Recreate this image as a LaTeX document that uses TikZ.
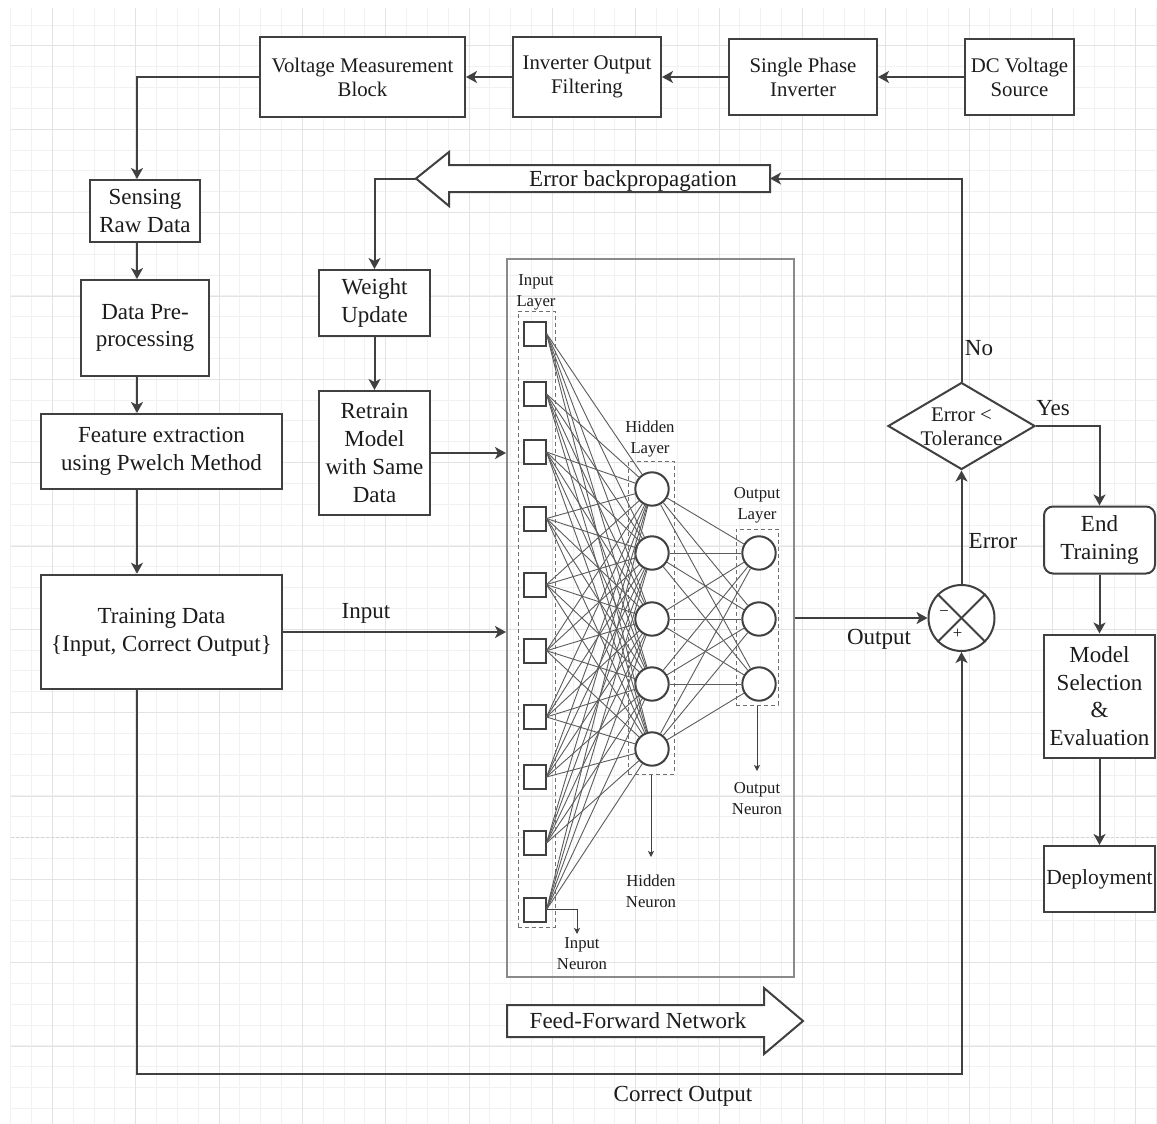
\documentclass[tikz,border=0pt]{standalone}
\usepackage{fontspec}
\setmainfont{Liberation Serif}
\usetikzlibrary{arrows.meta,shapes.geometric}

\definecolor{ln}{HTML}{404040}
\definecolor{txt}{HTML}{1C1C1C}
\definecolor{nnframe}{HTML}{8A8A8A}
\definecolor{grp}{HTML}{707070}
\definecolor{wirec}{HTML}{5C5C5C}
\definecolor{gridminor}{HTML}{F1F1F1}
\definecolor{gridmajor}{HTML}{E3E3E3}
\definecolor{pagebrk}{HTML}{D2D2D2}

\newcommand\fbig{\fontsize{23}{27.7}\selectfont}
\newcommand\fmid{\fontsize{20.8}{24.2}\selectfont}
\newcommand\fsml{\fontsize{16.7}{21}\selectfont}

\tikzset{
  blk/.style={draw=ln, line width=2pt, fill=white, align=center, inner sep=0pt, text=txt, font=\fbig},
  topblk/.style={blk, font=\fmid},
  arr/.style={draw=ln, line width=2pt, -{Stealth[length=11pt,width=12pt,inset=3pt]}},
  thinarr/.style={draw=ln, line width=1pt, -{Stealth[length=6pt,width=6pt,inset=1.5pt]}},
  lbl/.style={text=txt, font=\fbig, inner sep=0pt, align=center},
  slbl/.style={text=txt, font=\fsml, inner sep=0pt, align=center},
  inneuron/.style={draw=ln, line width=2pt, fill=white, minimum width=22pt, minimum height=24pt, inner sep=0pt},
  neuron/.style={circle, draw=ln, line width=2pt, fill=white, minimum size=33.4pt, inner sep=0pt},
  wire/.style={draw=wirec, line width=0.9pt},
  group/.style={draw=grp, line width=1pt, dash pattern=on 4pt off 3pt, inner sep=0pt},
  bigarrow/.style={draw=ln, line width=2pt, fill=white, line join=miter},
}

\begin{document}
\begin{tikzpicture}[x=1pt,y=-1pt]
\useasboundingbox (0,0) rectangle (1157,1124);
\fill[white] (0,0) rectangle (1157,1124);

% background grid
\foreach \k in {0,...,55}
  \draw[gridminor, line width=1pt] ({10.7+20.833*\k},8) -- ({10.7+20.833*\k},1124);
\foreach \k in {1,...,53}
  \draw[gridminor, line width=1pt] (10.7,{4.33+20.833*\k}) -- (1157,{4.33+20.833*\k});
\foreach \k in {0,...,13}
  \draw[gridmajor, line width=1pt] ({52.37+83.333*\k},8) -- ({52.37+83.333*\k},1124);
\foreach \k in {0,...,12}
  \draw[gridmajor, line width=1pt] (10.7,{46+83.333*\k}) -- (1157,{46+83.333*\k});
\draw[pagebrk, line width=1pt, dash pattern=on 3pt off 2pt] (10.7,837.7) -- (1157,837.7);

% signal chain along the top
\node[topblk, minimum width=205pt, minimum height=80pt] (vmb) at (362.5,77) {Voltage Measurement\\Block};
\node[topblk, minimum width=148pt, minimum height=80pt] (iof) at (587,77) {Inverter Output\\Filtering};
\node[topblk, minimum width=148pt, minimum height=76pt] (spi) at (803,77) {Single Phase\\Inverter};
\node[topblk, minimum width=109pt, minimum height=76pt] (dc) at (1019.5,77) {DC Voltage\\Source};

\draw[arr] (dc.west) -- (spi.east);
\draw[arr] (spi.west) -- (iof.east);
\draw[arr] (iof.west) -- (vmb.east);

% data preparation column
\coordinate (colx) at (137,0);
\node[blk, minimum width=110pt, minimum height=62pt] (sense) at (145,211) {Sensing\\Raw Data};
\node[blk, minimum width=128pt, minimum height=96pt] (dp) at (145,328) {Data Pre-\\processing};
\node[blk, minimum width=241pt, minimum height=75pt] (fe) at (161.5,451.5) {Feature extraction\\using Pwelch Method};
\node[blk, line width=2.6pt, minimum width=241pt, minimum height=114pt] (td) at (161.5,632) {Training Data\\\{Input, Correct Output\}};

\draw[arr] (vmb.west) -| (sense.north -| colx);
\draw[arr] (sense.south -| colx) -- (dp.north -| colx);
\draw[arr] (dp.south -| colx) -- (fe.north -| colx);
\draw[arr] (fe.south -| colx) -- (td.north -| colx);

% weight update loop
\node[blk, minimum width=111pt, minimum height=66pt] (wu) at (374.5,303) {Weight\\Update};
\node[blk, minimum width=111pt, minimum height=124pt] (rm) at (374.5,453) {Retrain\\Model\\with Same\\Data};
\draw[arr] (wu.south) -- (rm.north);

% error backpropagation arrow
\draw[bigarrow] (416,178.5) -- (449,152) -- (449,165) -- (770,165) -- (770,192) -- (449,192) -- (449,206) -- cycle;
\node[lbl] (ebtext) at (633,181) {Error backpropagation};
\coordinate (ebtip) at (416,178.5);
\coordinate (ebtail) at (770,178.5);
\draw[arr] (ebtip) -| (wu.north);

% feed-forward network frame
\node[draw=nnframe, line width=2pt, minimum width=287pt, minimum height=718pt, inner sep=0pt] (nn) at (650.5,618) {};

% layer groups
\node[group, minimum width=37pt, minimum height=616pt] (il) at (536.5,619) {};
\node[group, minimum width=46pt, minimum height=313pt] (hl) at (651,617.5) {};
\node[group, minimum width=42pt, minimum height=176pt] (ol) at (757,617) {};

\node[slbl] (iltext) at (536,292) {Input\\Layer};
\node[slbl] (hltext) at (650,439) {Hidden\\Layer};
\node[slbl] (oltext) at (757,505.5) {Output\\Layer};

% neurons
\foreach \y [count=\i] in {333.5,394,452,518.5,584.6,650.7,717,777,843,909.7}
  \node[inneuron] (i\i) at (534.5,\y) {};
\foreach \y [count=\i] in {489,553,619,684,749}
  \node[neuron] (h\i) at (652,\y) {};
\foreach \y [count=\i] in {553,619,684}
  \node[neuron] (o\i) at (759,\y) {};

% weights
\foreach \a in {1,...,10}
  \foreach \b in {1,...,5}
    \draw[wire] (i\a.east) -- (h\b);
\foreach \a in {1,...,5}
  \foreach \b in {1,2,3}
    \draw[wire] (h\a) -- (o\b);

% neuron annotations
\coordinate (inn) at (577,934);
\coordinate (hnn) at (651,857);
\coordinate (onn) at (757,771);
\draw[thinarr] (i10.east) -| (inn);
\draw[thinarr] (hl.south) -- (hnn);
\draw[thinarr] (ol.south) -- (onn);
\node[slbl] (intext) at (582,953.5) {Input\\Neuron};
\node[slbl] (hntext) at (651,891.5) {Hidden\\Neuron};
\node[slbl] (ontext) at (757,799) {Output\\Neuron};

% feed-forward direction arrow
\draw[bigarrow] (507,1005) -- (764,1005) -- (764,988) -- (803,1021) -- (764,1054) -- (764,1037) -- (507,1037) -- cycle;
\node[lbl] (fftext) at (638,1021) {Feed-Forward Network};

% inputs into the network
\draw[arr] (rm.east) -- (rm.east -| nn.west);
\draw[arr] (td.east) -- (td.east -| nn.west);
\node[lbl] (inlbl) at (366,613) {Input};

% error computation
\node[circle, draw=ln, line width=2pt, fill=white, minimum size=66pt, inner sep=0pt] (sum) at (961.5,618) {};
\draw[ln, line width=2pt] (sum.north west) -- (sum.south east);
\draw[ln, line width=2pt] (sum.north east) -- (sum.south west);
\node[slbl] (minus) at (944,614) {−};
\node[slbl] (plus) at (957.5,634) {+};

\draw[arr] (nn.east |- sum.west) -- (sum.west);
\node[lbl] (outlbl) at (879,639) {Output};

\coordinate (cbl) at (137,1074);
\draw[arr] (td.south -| colx) -- (cbl) -| (sum.south);
\node[lbl] (colbl) at (683,1096) {Correct Output};

\node[diamond, draw=ln, line width=2pt, fill=white, minimum width=147pt, minimum height=87pt, inner sep=0pt] (dec) at (961.5,426) {};
\node[text=txt, font=\fmid, inner sep=0pt, align=center] (dectext) at (961.5,427) {Error \textless\\Tolerance};
\draw[arr] (sum.north) -- (dec.south);
\node[lbl] (errlbl) at (993,541) {Error};

\draw[arr] (dec.north) |- (ebtail);
\node[lbl] (nolbl) at (979,348) {No};

% closing steps
\node[blk, rounded corners=9pt, minimum width=111pt, minimum height=67pt] (et) at (1099.5,540) {End\\Training};
\node[blk, minimum width=111pt, minimum height=123pt] (ms) at (1099.5,696) {Model\\Selection\\\&\\Evaluation};
\node[blk, font=\fontsize{21.5}{25}\selectfont, minimum width=111pt, minimum height=66pt] (dep) at (1099.5,879) {Deployment};

\draw[arr] (dec.east) -| (et.north);
\node[lbl] (yeslbl) at (1053,408) {Yes};
\draw[arr] (et.south) -- (ms.north);
\draw[arr] (ms.south) -- (dep.north);
\end{tikzpicture}
\end{document}
